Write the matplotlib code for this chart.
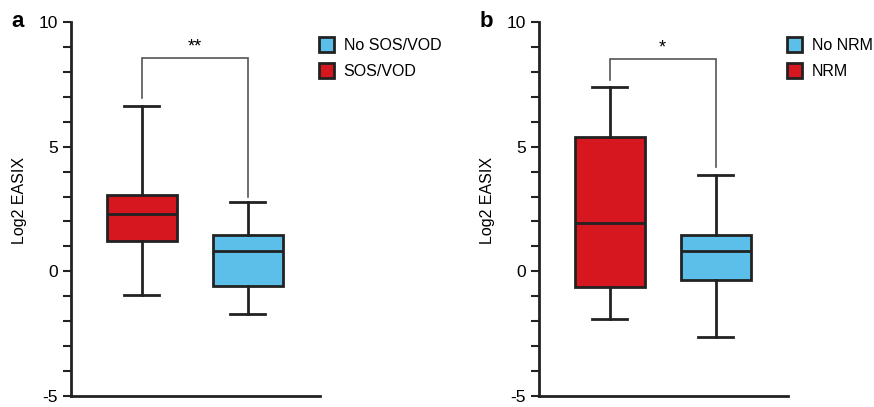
import matplotlib.pyplot as plt
from matplotlib.patches import Patch

plt.rcParams['font.family'] = ['Liberation Sans', 'DejaVu Sans']
plt.rcParams['axes.unicode_minus'] = False

RED = '#d6171f'
BLUE = '#5bbfea'
EDGE = '#222222'

# panel a: SOS/VOD vs No SOS/VOD (whislo, q1, med, q3, whishi)
a_labels = ['No SOS/VOD', 'SOS/VOD']
a_sos = [-0.93, 1.2, 2.3, 3.05, 6.65]
a_nosos = [-1.73, -0.6, 0.8, 1.45, 2.78]
a_bracket = [6.95, 8.55, 3.0]  # left foot, top, right foot
a_sig = '**'

# panel b: NRM vs No NRM
b_labels = ['No NRM', 'NRM']
b_nrm = [-1.93, -0.64, 1.93, 5.38, 7.38]
b_nonrm = [-2.65, -0.33, 0.8, 1.45, 3.87]
b_bracket = [7.67, 8.5, 4.18]
b_sig = '*'

yticks = [-5, 0, 5, 10]


def stats(vals):
    lo, q1, med, q3, hi = vals
    return dict(whislo=lo, q1=q1, med=med, q3=q3, whishi=hi, fliers=[])


def panel(ax, red_vals, blue_vals, bracket, sig, labels, letter):
    bp = ax.bxp([stats(red_vals), stats(blue_vals)], positions=[1, 2],
                widths=0.66, capwidths=0.33, patch_artist=True, showfliers=False,
                boxprops=dict(linewidth=2, edgecolor=EDGE),
                medianprops=dict(color=EDGE, linewidth=2),
                whiskerprops=dict(color=EDGE, linewidth=2),
                capprops=dict(color=EDGE, linewidth=2))
    for patch, c in zip(bp['boxes'], [RED, BLUE]):
        patch.set_facecolor(c)

    lf, top, rf = bracket
    ax.plot([1, 1, 2, 2], [lf, top, top, rf], color='#555555', lw=1.2,
            solid_joinstyle='miter')
    ax.text(1.5, top + 0.1, sig, ha='center', va='bottom', fontsize=13)

    ax.set_xlim(0.335, 2.68)
    ax.set_ylim(-5, 10)
    ax.set_yticks(yticks)
    ax.set_yticks(range(-5, 11), minor=True)
    ax.set_xticks([])
    ax.tick_params(axis='y', which='both', direction='out', length=6, width=1.5,
                   labelsize=12.5, pad=3.5, color=EDGE)
    for s in ['top', 'right']:
        ax.spines[s].set_visible(False)
    for s in ['left', 'bottom']:
        ax.spines[s].set_linewidth(2)
        ax.spines[s].set_color(EDGE)
    ax.set_ylabel('Log2 EASIX', fontsize=11.5)
    ax.yaxis.set_label_coords(-0.175, 0.524)

    handles = [Patch(facecolor=BLUE, edgecolor=EDGE, linewidth=2),
               Patch(facecolor=RED, edgecolor=EDGE, linewidth=2)]
    ax.legend(handles, labels, loc='upper left', bbox_to_anchor=(0.97, 0.978),
              frameon=False, fontsize=11.5, handlelength=0.95, handleheight=1.1,
              handletextpad=0.6, labelspacing=0.65, borderaxespad=0)
    ax.text(-0.24, 1.0, letter, transform=ax.transAxes, fontsize=16,
            fontweight='bold', ha='left', va='center')


fig = plt.figure(figsize=(8.74, 4.07), dpi=100)
ax_a = fig.add_axes([0.0812, 0.027, 0.285, 0.919])
ax_b = fig.add_axes([0.6167, 0.027, 0.285, 0.919])

panel(ax_a, a_sos, a_nosos, a_bracket, a_sig, a_labels, 'a')
panel(ax_b, b_nrm, b_nonrm, b_bracket, b_sig, b_labels, 'b')

fig.savefig('out.png', dpi=100)
